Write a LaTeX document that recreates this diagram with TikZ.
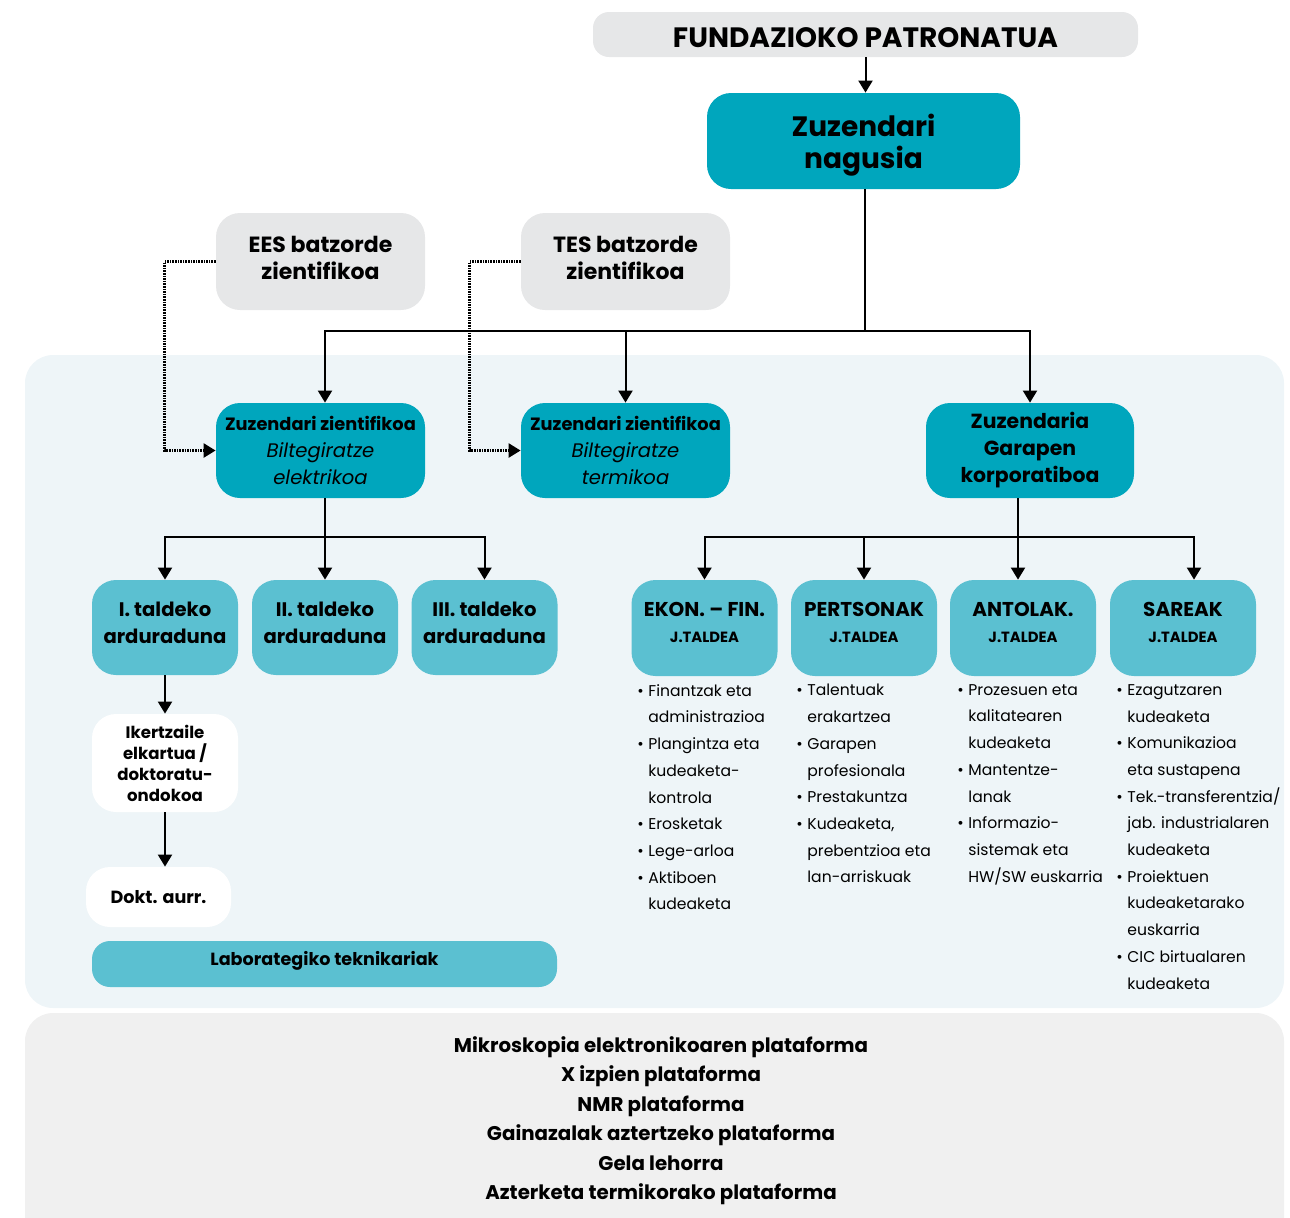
\documentclass[tikz,border=0pt]{standalone}
\usepackage{fontspec}
\setmainfont{Poppins}
\usepackage{tikz}
\usetikzlibrary{arrows.meta}

\definecolor{tealdark}{HTML}{00A6BD}
\definecolor{teallight}{HTML}{5BC0D1}
\definecolor{boxgray}{HTML}{E6E7E8}
\definecolor{panelblue}{HTML}{EEF5F8}
\definecolor{panelgray}{HTML}{F0F0F0}

\newcommand{\bl}{\makebox[5.5pt][l]{\textbullet}}
\newcommand{\ind}{\hspace*{5.5pt}}
\newcommand{\shifted}[2]{\raisebox{#1}[\height][\depth]{\begin{tabular}{@{}c@{}}#2\end{tabular}}}

\begin{document}
\begin{tikzpicture}[x=0.5pt,y=-0.5pt,
	box/.style={rounded corners=12pt, inner sep=1pt, align=center, text=black},
	dark/.style={box, fill=tealdark},
	light/.style={box, fill=teallight},
	grey/.style={box, fill=boxgray},
	white/.style={box, fill=white},
	conn/.style={line width=1pt, -{Triangle[width=7pt,length=6pt]}},
	dots/.style={line width=1.2pt, dash pattern=on 0.8pt off 0.5pt, -{Triangle[width=7pt,length=6pt]}},
	list/.style={anchor=north west, inner sep=0pt, align=left, font=\fontsize{7.8}{13.35}\selectfont}]
	\useasboundingbox (0,0) rectangle (1290,1217);
	
	\fill[panelblue, rounded corners=14pt] (25,355) rectangle (1284,1008);
	\fill[panelgray, rounded corners=14pt] (25,1013) rectangle (1284,1260);
	
	\node[grey, rounded corners=8pt, minimum width=272.5pt, minimum height=22.5pt, font=\bfseries\fontsize{14}{15}\selectfont] (patr) at (865.5,34.5) {\shifted{-3.5pt}{FUNDAZIOKO PATRONATUA}};
	\node[dark, minimum width=156.5pt, minimum height=48pt, font=\bfseries\fontsize{14}{16}\selectfont] (nagusia) at (863.5,141) {\shifted{-2.5pt}{Zuzendari\\nagusia}};
	
	\node[grey, minimum width=104.5pt, minimum height=48.5pt, font=\bfseries\fontsize{11}{13.5}\selectfont] (ees) at (320.5,261.5) {\shifted{0.5pt}{EES batzorde\\zientifikoa}};
	\node[grey, minimum width=104.5pt, minimum height=48.5pt, font=\bfseries\fontsize{11}{13.5}\selectfont] (tes) at (625.5,261.5) {\shifted{0.5pt}{TES batzorde\\zientifikoa}};
	
	\node[dark, minimum width=104.5pt, minimum height=47.5pt, font=\fontsize{9.8}{13.5}\selectfont] (zelek) at (320.5,450.5) {{\bfseries\fontsize{8.9}{13.5}\selectfont Zuzendari zientifikoa}\\\textit{Biltegiratze}\\\textit{elektrikoa}};
	\node[dark, minimum width=104.5pt, minimum height=47.5pt, font=\fontsize{9.8}{13.5}\selectfont] (zterm) at (625.5,450.5) {{\bfseries\fontsize{8.9}{13.5}\selectfont Zuzendari zientifikoa}\\\textit{Biltegiratze}\\\textit{termikoa}};
	\node[dark, minimum width=104pt, minimum height=47.5pt, font=\bfseries\fontsize{10.2}{13.5}\selectfont] (garapen) at (1030,450.5) {Zuzendaria\\Garapen\\korporatiboa};
	
	\node[light, minimum width=73pt, minimum height=47.5pt, font=\bfseries\fontsize{9.8}{13.5}\selectfont] (t1) at (165,627.5) {\shifted{1.5pt}{I. taldeko\\arduraduna}};
	\node[light, minimum width=73pt, minimum height=47.5pt, font=\bfseries\fontsize{9.8}{13.5}\selectfont] (t2) at (325,627.5) {\shifted{1.5pt}{II. taldeko\\arduraduna}};
	\node[light, minimum width=73pt, minimum height=47.5pt, font=\bfseries\fontsize{9.8}{13.5}\selectfont] (t3) at (484.5,627.5) {\shifted{1.5pt}{III. taldeko\\arduraduna}};
	
	\node[white, minimum width=73pt, minimum height=49pt, font=\bfseries\fontsize{8.3}{10.5}\selectfont] (iker) at (165,763) {Ikertzaile\\elkartua /\\doktoratu-\\ondokoa};
	\node[white, minimum width=72.5pt, minimum height=30pt, font=\bfseries\fontsize{8.8}{10.5}\selectfont] (dokt) at (158.5,897) {Dokt. aurr.};
	\node[light, rounded corners=9pt, minimum width=232.5pt, minimum height=23pt, font=\bfseries\fontsize{8.8}{10.5}\selectfont] (lab) at (324.5,964) {\shifted{1.5pt}{Laborategiko teknikariak}};
	
	\node[light, minimum width=73pt, minimum height=48pt, font=\bfseries\fontsize{10}{13}\selectfont] (ekon) at (704.5,628) {\shifted{1.75pt}{EKON. -- FIN.\\{\fontsize{7.4}{9}\selectfont J.TALDEA}}};
	\node[light, minimum width=73pt, minimum height=48pt, font=\bfseries\fontsize{10}{13}\selectfont] (pert) at (864,628) {\shifted{1.75pt}{PERTSONAK\\{\fontsize{7.4}{9}\selectfont J.TALDEA}}};
	\node[light, minimum width=73pt, minimum height=48pt, font=\bfseries\fontsize{10}{13}\selectfont] (antol) at (1023,628) {\shifted{1.75pt}{ANTOLAK.\\{\fontsize{7.4}{9}\selectfont J.TALDEA}}};
	\node[light, minimum width=73pt, minimum height=48pt, font=\bfseries\fontsize{10}{13}\selectfont] (sare) at (1183,628) {\shifted{1.75pt}{SAREAK\\{\fontsize{7.4}{9}\selectfont J.TALDEA}}};
	
	\node[list] (lekon) at (637,684) {\bl Finantzak eta\\\ind administrazioa\\\bl Plangintza eta\\\ind kudeaketa-\\\ind kontrola\\\bl Erosketak\\\bl Lege-arloa\\\bl Aktiboen\\\ind kudeaketa};
	\node[list] (lpert) at (796,684) {\bl Talentuak\\\ind erakartzea\\\bl Garapen\\\ind profesionala\\\bl Prestakuntza\\\bl Kudeaketa,\\\ind prebentzioa eta\\\ind lan-arriskuak};
	\node[list] (lantol) at (957,684) {\bl Prozesuen eta\\\ind kalitatearen\\\ind kudeaketa\\\bl Mantentze-\\\ind lanak\\\bl Informazio-\\\ind sistemak eta\\\ind HW/SW euskarria};
	\node[list] (lsare) at (1116,684) {\bl Ezagutzaren\\\ind kudeaketa\\\bl Komunikazioa\\\ind eta sustapena\\\bl Tek.-transferentzia/\\\ind jab. industrialaren\\\ind kudeaketa\\\bl Proiektuen\\\ind kudeaketarako\\\ind euskarria\\\bl CIC birtualaren\\\ind kudeaketa};
	
	\node[align=center, font=\bfseries\fontsize{9.9}{14.75}\selectfont] (plat) at (661,1120.5) {Mikroskopia elektronikoaren plataforma\\X izpien plataforma\\NMR plataforma\\Gainazalak aztertzeko plataforma\\Gela lehorra\\Azterketa termikorako plataforma};
	
	\coordinate (split1) at (865,331);
	\coordinate (split2) at (325,537);
	\coordinate (split3) at (1018,537);
	
	\draw[conn] (patr) -- (patr |- nagusia.north);
	\draw[line width=1pt] (split1 |- nagusia.south) -- (split1);
	\draw[conn] (split1) -| (split2 |- zelek.north);
	\draw[conn] (split1) -| (zterm);
	\draw[conn] (split1) -| (garapen);
	
	\draw[dots] (ees.west) -- ++(-51,0) |- (zelek.west);
	\draw[dots] (tes.west) -- ++(-51,0) |- (zterm.west);
	
	\draw[line width=1pt] (split2 |- zelek.south) -- (split2);
	\draw[conn] (split2) -| (t1);
	\draw[conn] (split2) -- (t2);
	\draw[conn] (split2) -| (t3);
	\draw[conn] (t1) -- (iker);
	\draw[conn] (iker) -- (iker |- dokt.north);
	
	\draw[line width=1pt] (split3 |- garapen.south) -- (split3);
	\draw[conn] (split3) -| (ekon);
	\draw[conn] (split3) -| (pert);
	\draw[conn] (split3) -- (split3 |- antol.north);
	\draw[conn] (split3) -| ([xshift=5.5pt]sare.north);
	\end{tikzpicture}
\end{document}
